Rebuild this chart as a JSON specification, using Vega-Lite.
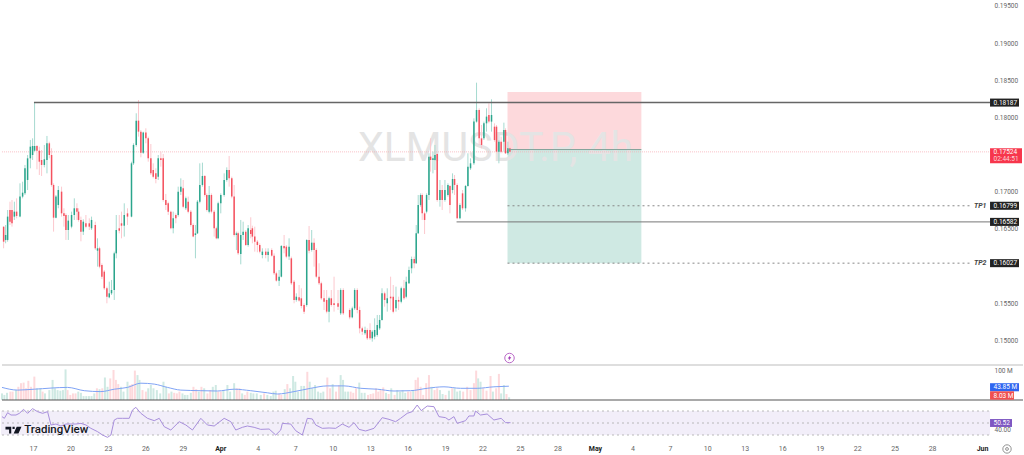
{"$schema":"https://vega.github.io/schema/vega-lite/v6.json","width":1024,"height":455,"padding":0,"autosize":{"type":"fit","contains":"padding"},"background":"white","config":{"view":{"stroke":null},"text":{"font":"Roboto"}},"datasets":{"candles":[
{"d":14.65,"o":0.16518,"h":0.16518,"l":0.16227,"c":0.16316},{"d":14.81,"o":0.16339,"h":0.1654,"l":0.16294,"c":0.16406},{"d":14.97,"o":0.16339,"h":0.16742,"l":0.16316,"c":0.16653},{"d":15.16,"o":0.16742,"h":0.16854,"l":0.1654,"c":0.16585},{"d":15.32,"o":0.16742,"h":0.16877,"l":0.16518,"c":0.16563},{"d":15.51,"o":0.16653,"h":0.16854,"l":0.16608,"c":0.1672},{"d":15.69,"o":0.1672,"h":0.16899,"l":0.1663,"c":0.16662},{"d":15.96,"o":0.16653,"h":0.17101,"l":0.16644,"c":0.16922},{"d":16.17,"o":0.16922,"h":0.17123,"l":0.16899,"c":0.16975},{"d":16.36,"o":0.16966,"h":0.17348,"l":0.16944,"c":0.17303},{"d":16.57,"o":0.17146,"h":0.17482,"l":0.17011,"c":0.17437},{"d":16.79,"o":0.17437,"h":0.17684,"l":0.17303,"c":0.17594},{"d":16.97,"o":0.17482,"h":0.17706,"l":0.17415,"c":0.17603},{"d":17.13,"o":0.1754,"h":0.18186,"l":0.17527,"c":0.17603},{"d":17.32,"o":0.17603,"h":0.17617,"l":0.17289,"c":0.1754},{"d":17.51,"o":0.1754,"h":0.17594,"l":0.17213,"c":0.17392},{"d":17.69,"o":0.17415,"h":0.17549,"l":0.172,"c":0.17348},{"d":17.91,"o":0.17348,"h":0.17617,"l":0.17316,"c":0.17424},{"d":18.12,"o":0.17415,"h":0.17738,"l":0.17235,"c":0.17639},{"d":18.31,"o":0.17639,"h":0.17661,"l":0.17437,"c":0.17482},{"d":18.49,"o":0.17482,"h":0.17572,"l":0.17056,"c":0.17079},{"d":18.65,"o":0.17079,"h":0.17101,"l":0.16451,"c":0.16639},{"d":18.84,"o":0.16639,"h":0.16944,"l":0.1663,"c":0.16922},{"d":19.03,"o":0.1681,"h":0.17065,"l":0.16765,"c":0.17011},{"d":19.29,"o":0.16989,"h":0.17056,"l":0.16653,"c":0.16697},{"d":19.48,"o":0.16697,"h":0.16765,"l":0.16518,"c":0.16662},{"d":19.64,"o":0.16675,"h":0.16697,"l":0.16339,"c":0.16473},{"d":19.83,"o":0.16473,"h":0.16675,"l":0.16339,"c":0.16599},{"d":20.09,"o":0.16518,"h":0.1672,"l":0.16496,"c":0.16675},{"d":20.31,"o":0.16675,"h":0.16899,"l":0.16608,"c":0.16765},{"d":20.52,"o":0.16765,"h":0.16832,"l":0.16608,"c":0.1672},{"d":20.65,"o":0.1672,"h":0.16765,"l":0.16585,"c":0.16608},{"d":20.84,"o":0.16608,"h":0.16653,"l":0.16321,"c":0.16451},{"d":21.03,"o":0.16451,"h":0.16617,"l":0.16406,"c":0.16585},{"d":21.24,"o":0.16563,"h":0.16675,"l":0.16496,"c":0.16518},{"d":21.51,"o":0.16563,"h":0.1663,"l":0.16473,"c":0.16518},{"d":21.69,"o":0.16496,"h":0.16653,"l":0.16473,"c":0.16608},{"d":21.99,"o":0.1654,"h":0.16585,"l":0.16204,"c":0.16227},{"d":22.17,"o":0.16195,"h":0.16361,"l":0.1598,"c":0.16227},{"d":22.33,"o":0.16227,"h":0.16249,"l":0.15958,"c":0.1598},{"d":22.52,"o":0.16002,"h":0.16025,"l":0.15814,"c":0.15845},{"d":22.71,"o":0.15913,"h":0.15935,"l":0.15666,"c":0.15689},{"d":22.92,"o":0.15689,"h":0.15711,"l":0.15487,"c":0.15576},{"d":23.11,"o":0.15567,"h":0.15778,"l":0.15554,"c":0.15621},{"d":23.29,"o":0.15621,"h":0.15801,"l":0.15599,"c":0.15666},{"d":23.51,"o":0.15666,"h":0.16182,"l":0.15532,"c":0.16159},{"d":23.67,"o":0.16159,"h":0.16675,"l":0.16092,"c":0.16473},{"d":23.91,"o":0.16496,"h":0.16675,"l":0.16428,"c":0.16464},{"d":24.09,"o":0.16563,"h":0.1672,"l":0.16361,"c":0.16531},{"d":24.31,"o":0.16531,"h":0.16832,"l":0.16384,"c":0.16675},{"d":24.57,"o":0.16697,"h":0.16765,"l":0.1654,"c":0.16653},{"d":24.89,"o":0.16653,"h":0.17392,"l":0.16644,"c":0.1737},{"d":25.05,"o":0.1737,"h":0.17639,"l":0.17348,"c":0.17617},{"d":25.27,"o":0.17617,"h":0.18043,"l":0.17594,"c":0.17944},{"d":25.45,"o":0.17944,"h":0.18222,"l":0.17729,"c":0.17796},{"d":25.64,"o":0.17796,"h":0.17818,"l":0.17451,"c":0.17513},{"d":25.83,"o":0.17513,"h":0.17796,"l":0.17496,"c":0.17783},{"d":26.04,"o":0.17783,"h":0.17841,"l":0.17639,"c":0.17706},{"d":26.23,"o":0.17706,"h":0.17729,"l":0.17392,"c":0.17437},{"d":26.44,"o":0.17437,"h":0.1763,"l":0.17213,"c":0.17235},{"d":26.63,"o":0.1728,"h":0.1737,"l":0.17168,"c":0.17191},{"d":26.84,"o":0.17235,"h":0.17303,"l":0.17101,"c":0.17159},{"d":27.03,"o":0.17191,"h":0.17482,"l":0.17146,"c":0.17437},{"d":27.24,"o":0.17437,"h":0.17527,"l":0.17325,"c":0.17415},{"d":27.43,"o":0.17437,"h":0.17495,"l":0.16854,"c":0.16877},{"d":27.64,"o":0.16877,"h":0.16958,"l":0.16742,"c":0.1681},{"d":27.83,"o":0.16832,"h":0.16854,"l":0.16675,"c":0.1672},{"d":28.04,"o":0.1672,"h":0.16733,"l":0.16482,"c":0.16496},{"d":28.23,"o":0.16496,"h":0.1672,"l":0.16428,"c":0.1663},{"d":28.44,"o":0.16675,"h":0.16697,"l":0.16563,"c":0.1663},{"d":28.63,"o":0.16675,"h":0.17056,"l":0.16653,"c":0.16989},{"d":28.84,"o":0.16989,"h":0.17168,"l":0.16944,"c":0.17056},{"d":29.03,"o":0.17034,"h":0.17146,"l":0.16765,"c":0.16787},{"d":29.24,"o":0.16765,"h":0.16922,"l":0.16742,"c":0.16899},{"d":29.43,"o":0.16854,"h":0.16922,"l":0.16697,"c":0.1672},{"d":29.64,"o":0.1672,"h":0.16742,"l":0.16518,"c":0.1654},{"d":29.83,"o":0.1654,"h":0.16563,"l":0.16375,"c":0.16384},{"d":30.01,"o":0.16406,"h":0.1654,"l":0.16092,"c":0.16428},{"d":30.17,"o":0.16428,"h":0.16877,"l":0.16419,"c":0.16854},{"d":30.36,"o":0.16854,"h":0.1737,"l":0.16832,"c":0.17079},{"d":30.57,"o":0.17079,"h":0.17379,"l":0.17056,"c":0.172},{"d":30.76,"o":0.172,"h":0.17213,"l":0.16922,"c":0.16944},{"d":30.92,"o":0.16944,"h":0.16966,"l":0.1672,"c":0.16742},{"d":31.11,"o":0.1672,"h":0.17065,"l":0.16697,"c":0.16944},{"d":31.29,"o":0.16944,"h":0.16966,"l":0.16697,"c":0.1672},{"d":31.51,"o":0.1672,"h":0.16742,"l":0.16384,"c":0.16496},{"d":31.69,"o":0.16496,"h":0.16518,"l":0.16348,"c":0.16361},{"d":31.83,"o":0.16361,"h":0.16854,"l":0.16348,"c":0.16832},{"d":32.04,"o":0.16832,"h":0.16966,"l":0.16697,"c":0.16944},{"d":32.31,"o":0.16944,"h":0.17235,"l":0.16922,"c":0.17146},{"d":32.52,"o":0.17146,"h":0.17316,"l":0.17123,"c":0.1728},{"d":32.71,"o":0.1728,"h":0.17469,"l":0.17056,"c":0.17168},{"d":32.92,"o":0.17168,"h":0.17191,"l":0.16899,"c":0.16922},{"d":33.11,"o":0.16922,"h":0.17079,"l":0.16384,"c":0.16406},{"d":33.29,"o":0.16406,"h":0.16451,"l":0.16204,"c":0.16428},{"d":33.43,"o":0.16428,"h":0.16451,"l":0.16137,"c":0.16159},{"d":33.64,"o":0.1615,"h":0.16608,"l":0.16011,"c":0.16406},{"d":33.83,"o":0.16406,"h":0.16585,"l":0.16339,"c":0.16451},{"d":34.04,"o":0.16451,"h":0.16473,"l":0.16258,"c":0.16271},{"d":34.23,"o":0.16271,"h":0.1654,"l":0.16249,"c":0.16496},{"d":34.44,"o":0.16473,"h":0.16644,"l":0.16361,"c":0.16419},{"d":34.57,"o":0.16496,"h":0.16531,"l":0.16294,"c":0.16384},{"d":34.76,"o":0.16384,"h":0.16518,"l":0.16182,"c":0.16316},{"d":34.97,"o":0.16316,"h":0.16339,"l":0.16173,"c":0.16271},{"d":35.16,"o":0.16271,"h":0.16294,"l":0.16159,"c":0.16182},{"d":35.37,"o":0.16137,"h":0.16227,"l":0.16092,"c":0.16182},{"d":35.64,"o":0.16182,"h":0.16227,"l":0.16092,"c":0.16137},{"d":35.83,"o":0.16137,"h":0.16227,"l":0.16047,"c":0.16182},{"d":36.12,"o":0.16204,"h":0.16227,"l":0.16115,"c":0.16128},{"d":36.31,"o":0.16128,"h":0.16159,"l":0.15868,"c":0.1589},{"d":36.49,"o":0.1589,"h":0.15913,"l":0.15778,"c":0.15792},{"d":36.71,"o":0.15792,"h":0.15935,"l":0.1572,"c":0.15845},{"d":36.89,"o":0.15845,"h":0.16271,"l":0.15836,"c":0.16258},{"d":37.11,"o":0.16258,"h":0.16406,"l":0.16159,"c":0.16227},{"d":37.29,"o":0.16249,"h":0.16271,"l":0.16092,"c":0.16115},{"d":37.51,"o":0.16115,"h":0.16361,"l":0.1607,"c":0.16249},{"d":37.69,"o":0.16092,"h":0.16115,"l":0.15733,"c":0.15756},{"d":37.91,"o":0.15778,"h":0.15801,"l":0.15487,"c":0.15532},{"d":38.09,"o":0.15532,"h":0.15621,"l":0.15509,"c":0.15576},{"d":38.31,"o":0.15567,"h":0.15733,"l":0.15509,"c":0.15523},{"d":38.49,"o":0.15554,"h":0.15689,"l":0.15419,"c":0.15451},{"d":38.71,"o":0.15464,"h":0.15487,"l":0.15343,"c":0.15375},{"d":38.92,"o":0.15464,"h":0.16348,"l":0.15442,"c":0.16339},{"d":39.11,"o":0.16339,"h":0.16527,"l":0.16159,"c":0.16195},{"d":39.32,"o":0.16204,"h":0.16473,"l":0.16182,"c":0.16303},{"d":39.51,"o":0.16303,"h":0.16361,"l":0.1598,"c":0.16204},{"d":39.69,"o":0.16204,"h":0.16227,"l":0.15823,"c":0.15845},{"d":39.91,"o":0.15845,"h":0.16025,"l":0.15733,"c":0.15756},{"d":40.09,"o":0.15756,"h":0.15778,"l":0.15532,"c":0.15554},{"d":40.31,"o":0.15554,"h":0.15666,"l":0.15397,"c":0.15509},{"d":40.52,"o":0.15532,"h":0.15666,"l":0.15352,"c":0.15375},{"d":40.71,"o":0.15375,"h":0.15576,"l":0.15231,"c":0.15554},{"d":40.89,"o":0.15554,"h":0.15666,"l":0.15442,"c":0.15464},{"d":41.11,"o":0.15487,"h":0.15845,"l":0.15375,"c":0.15464},{"d":41.43,"o":0.15487,"h":0.15666,"l":0.15397,"c":0.15442},{"d":41.64,"o":0.15352,"h":0.15689,"l":0.1533,"c":0.15666},{"d":41.85,"o":0.15666,"h":0.15689,"l":0.1533,"c":0.15352},{"d":42.36,"o":0.15397,"h":0.15419,"l":0.15272,"c":0.15298},{"d":42.57,"o":0.15298,"h":0.15442,"l":0.15285,"c":0.15419},{"d":42.76,"o":0.15419,"h":0.15689,"l":0.15397,"c":0.15666},{"d":42.97,"o":0.15666,"h":0.15689,"l":0.15352,"c":0.15397},{"d":43.16,"o":0.15397,"h":0.15442,"l":0.15083,"c":0.1515},{"d":43.37,"o":0.1515,"h":0.15173,"l":0.15061,"c":0.15105},{"d":43.59,"o":0.15083,"h":0.15173,"l":0.15061,"c":0.15128},{"d":43.77,"o":0.15128,"h":0.1515,"l":0.14993,"c":0.15016},{"d":43.99,"o":0.15128,"h":0.15218,"l":0.14993,"c":0.15016},{"d":44.17,"o":0.15016,"h":0.15128,"l":0.14971,"c":0.15105},{"d":44.36,"o":0.15038,"h":0.15285,"l":0.15002,"c":0.15128},{"d":44.57,"o":0.15061,"h":0.1533,"l":0.15038,"c":0.15195},{"d":44.76,"o":0.1515,"h":0.1533,"l":0.15128,"c":0.15263},{"d":44.95,"o":0.15263,"h":0.15689,"l":0.15254,"c":0.15621},{"d":45.16,"o":0.15621,"h":0.15644,"l":0.15442,"c":0.15532},{"d":45.37,"o":0.15487,"h":0.15689,"l":0.15375,"c":0.15554},{"d":45.64,"o":0.15576,"h":0.15845,"l":0.15397,"c":0.15554},{"d":45.85,"o":0.15576,"h":0.15733,"l":0.15352,"c":0.15375},{"d":46.07,"o":0.15419,"h":0.15711,"l":0.15375,"c":0.15532},{"d":46.28,"o":0.15532,"h":0.15576,"l":0.15397,"c":0.15509},{"d":46.49,"o":0.15509,"h":0.15711,"l":0.15487,"c":0.15689},{"d":46.71,"o":0.15689,"h":0.15801,"l":0.15532,"c":0.15554},{"d":46.89,"o":0.15576,"h":0.15845,"l":0.15554,"c":0.15778},{"d":47.11,"o":0.15756,"h":0.1598,"l":0.15747,"c":0.15935},{"d":47.32,"o":0.15958,"h":0.16115,"l":0.1589,"c":0.16083},{"d":47.53,"o":0.16083,"h":0.16115,"l":0.15958,"c":0.16025},{"d":47.69,"o":0.16025,"h":0.1654,"l":0.16016,"c":0.16428},{"d":47.85,"o":0.16428,"h":0.16944,"l":0.16419,"c":0.1681},{"d":48.04,"o":0.1681,"h":0.16966,"l":0.16787,"c":0.16944},{"d":48.17,"o":0.16944,"h":0.16966,"l":0.16608,"c":0.16697},{"d":48.36,"o":0.16697,"h":0.1672,"l":0.16419,"c":0.16608},{"d":48.52,"o":0.1672,"h":0.16966,"l":0.16697,"c":0.16944},{"d":48.71,"o":0.16944,"h":0.17505,"l":0.16877,"c":0.1746},{"d":48.84,"o":0.1746,"h":0.17706,"l":0.17258,"c":0.17415},{"d":49.03,"o":0.17415,"h":0.17527,"l":0.17235,"c":0.17437},{"d":49.19,"o":0.17415,"h":0.17617,"l":0.1728,"c":0.17482},{"d":49.37,"o":0.17495,"h":0.17513,"l":0.16854,"c":0.16877},{"d":49.59,"o":0.16877,"h":0.17146,"l":0.16787,"c":0.17011},{"d":49.77,"o":0.17011,"h":0.17079,"l":0.16742,"c":0.16877},{"d":49.99,"o":0.16877,"h":0.17146,"l":0.16854,"c":0.17011},{"d":50.23,"o":0.16944,"h":0.17101,"l":0.16922,"c":0.17079},{"d":50.39,"o":0.17065,"h":0.17079,"l":0.16697,"c":0.1681},{"d":50.6,"o":0.17011,"h":0.17235,"l":0.16966,"c":0.17159},{"d":50.76,"o":0.17159,"h":0.17213,"l":0.16944,"c":0.17079},{"d":50.97,"o":0.17079,"h":0.17101,"l":0.16617,"c":0.1663},{"d":51.19,"o":0.1663,"h":0.16832,"l":0.16617,"c":0.1681},{"d":51.4,"o":0.16966,"h":0.17011,"l":0.16742,"c":0.16765},{"d":51.64,"o":0.16765,"h":0.17079,"l":0.1672,"c":0.17065},{"d":51.83,"o":0.17065,"h":0.17505,"l":0.17056,"c":0.17325},{"d":52.04,"o":0.17303,"h":0.17437,"l":0.1728,"c":0.1737},{"d":52.31,"o":0.1737,"h":0.17975,"l":0.17348,"c":0.17931},{"d":52.52,"o":0.17931,"h":0.18455,"l":0.17917,"c":0.18087},{"d":52.73,"o":0.18087,"h":0.1811,"l":0.17617,"c":0.17706},{"d":52.92,"o":0.17706,"h":0.17886,"l":0.17572,"c":0.17617},{"d":53.11,"o":0.17706,"h":0.17931,"l":0.17684,"c":0.17908},{"d":53.32,"o":0.17908,"h":0.1811,"l":0.17796,"c":0.17998},{"d":53.51,"o":0.1802,"h":0.18177,"l":0.17908,"c":0.17931},{"d":53.72,"o":0.17931,"h":0.18231,"l":0.17796,"c":0.1802},{"d":53.96,"o":0.17863,"h":0.17908,"l":0.17661,"c":0.17684},{"d":54.12,"o":0.17863,"h":0.17886,"l":0.17505,"c":0.17527},{"d":54.31,"o":0.17527,"h":0.17684,"l":0.1737,"c":0.17661},{"d":54.49,"o":0.17661,"h":0.17729,"l":0.17505,"c":0.17527},{"d":54.71,"o":0.17661,"h":0.17917,"l":0.17527,"c":0.17818},{"d":54.84,"o":0.17818,"h":0.17841,"l":0.17495,"c":0.17505},{"d":55.03,"o":0.17505,"h":0.17661,"l":0.17482,"c":0.17572},{"d":55.19,"o":0.17572,"h":0.17594,"l":0.17495,"c":0.17524}
],"volume":[
{"d":14.52,"v":22,"s":"down"},{"d":14.71,"v":17,"s":"down"},{"d":14.92,"v":24,"s":"down"},{"d":15.19,"v":28,"s":"up"},{"d":15.37,"v":28,"s":"up"},{"d":15.64,"v":33,"s":"down"},{"d":15.83,"v":44,"s":"up"},{"d":16.04,"v":56,"s":"up"},{"d":16.25,"v":58,"s":"up"},{"d":16.44,"v":39,"s":"up"},{"d":16.63,"v":64,"s":"up"},{"d":16.84,"v":44,"s":"up"},{"d":17.11,"v":78,"s":"up"},{"d":17.32,"v":39,"s":"down"},{"d":17.59,"v":39,"s":"down"},{"d":17.77,"v":28,"s":"up"},{"d":17.96,"v":22,"s":"down"},{"d":18.31,"v":33,"s":"down"},{"d":18.57,"v":67,"s":"down"},{"d":18.76,"v":39,"s":"down"},{"d":18.97,"v":33,"s":"down"},{"d":19.19,"v":31,"s":"down"},{"d":19.4,"v":33,"s":"down"},{"d":19.61,"v":102,"s":"down"},{"d":19.77,"v":33,"s":"up"},{"d":19.99,"v":17,"s":"up"},{"d":20.2,"v":22,"s":"up"},{"d":20.41,"v":22,"s":"up"},{"d":20.63,"v":28,"s":"down"},{"d":20.84,"v":24,"s":"down"},{"d":21.05,"v":13,"s":"down"},{"d":21.27,"v":13,"s":"down"},{"d":21.48,"v":13,"s":"down"},{"d":21.69,"v":13,"s":"down"},{"d":21.91,"v":22,"s":"down"},{"d":22.12,"v":39,"s":"up"},{"d":22.33,"v":36,"s":"down"},{"d":22.55,"v":39,"s":"up"},{"d":22.76,"v":75,"s":"down"},{"d":22.97,"v":44,"s":"down"},{"d":23.19,"v":72,"s":"up"},{"d":23.45,"v":100,"s":"up"},{"d":23.64,"v":67,"s":"up"},{"d":23.83,"v":53,"s":"up"},{"d":24.04,"v":44,"s":"down"},{"d":24.25,"v":28,"s":"down"},{"d":24.57,"v":61,"s":"down"},{"d":24.79,"v":50,"s":"up"},{"d":24.95,"v":53,"s":"up"},{"d":25.16,"v":98,"s":"up"},{"d":25.37,"v":83,"s":"down"},{"d":25.53,"v":67,"s":"down"},{"d":25.77,"v":33,"s":"up"},{"d":26.04,"v":28,"s":"up"},{"d":26.23,"v":39,"s":"down"},{"d":26.44,"v":50,"s":"down"},{"d":26.65,"v":39,"s":"down"},{"d":26.92,"v":33,"s":"down"},{"d":27.19,"v":22,"s":"down"},{"d":27.45,"v":61,"s":"down"},{"d":27.67,"v":44,"s":"down"},{"d":27.88,"v":22,"s":"up"},{"d":28.09,"v":28,"s":"down"},{"d":28.31,"v":24,"s":"up"},{"d":28.52,"v":22,"s":"up"},{"d":28.73,"v":28,"s":"up"},{"d":28.97,"v":22,"s":"down"},{"d":29.16,"v":17,"s":"down"},{"d":29.37,"v":17,"s":"down"},{"d":29.64,"v":24,"s":"down"},{"d":29.85,"v":44,"s":"up"},{"d":30.07,"v":36,"s":"up"},{"d":30.28,"v":28,"s":"down"},{"d":30.49,"v":44,"s":"up"},{"d":30.71,"v":39,"s":"down"},{"d":30.97,"v":22,"s":"up"},{"d":31.19,"v":33,"s":"up"},{"d":31.4,"v":44,"s":"down"},{"d":31.64,"v":50,"s":"down"},{"d":31.83,"v":28,"s":"up"},{"d":32.04,"v":28,"s":"up"},{"d":32.25,"v":33,"s":"down"},{"d":32.57,"v":50,"s":"down"},{"d":32.79,"v":28,"s":"down"},{"d":33.11,"v":56,"s":"down"},{"d":33.32,"v":39,"s":"up"},{"d":33.53,"v":39,"s":"up"},{"d":33.75,"v":22,"s":"down"},{"d":33.96,"v":17,"s":"up"},{"d":34.17,"v":28,"s":"up"},{"d":34.44,"v":24,"s":"down"},{"d":34.65,"v":22,"s":"down"},{"d":34.92,"v":22,"s":"down"},{"d":35.24,"v":17,"s":"down"},{"d":35.51,"v":22,"s":"up"},{"d":35.77,"v":17,"s":"down"},{"d":36.04,"v":13,"s":"down"},{"d":36.25,"v":28,"s":"down"},{"d":36.44,"v":31,"s":"down"},{"d":36.71,"v":20,"s":"up"},{"d":36.89,"v":17,"s":"up"},{"d":37.16,"v":36,"s":"down"},{"d":37.37,"v":53,"s":"up"},{"d":37.59,"v":39,"s":"down"},{"d":37.83,"v":80,"s":"down"},{"d":38.01,"v":61,"s":"down"},{"d":38.23,"v":28,"s":"down"},{"d":38.49,"v":47,"s":"down"},{"d":38.71,"v":47,"s":"down"},{"d":38.97,"v":94,"s":"up"},{"d":39.16,"v":61,"s":"down"},{"d":39.37,"v":39,"s":"down"},{"d":39.59,"v":50,"s":"down"},{"d":39.83,"v":28,"s":"down"},{"d":40.04,"v":24,"s":"down"},{"d":40.25,"v":28,"s":"down"},{"d":40.57,"v":75,"s":"up"},{"d":40.79,"v":39,"s":"up"},{"d":41.0,"v":53,"s":"down"},{"d":41.27,"v":28,"s":"up"},{"d":41.51,"v":50,"s":"up"},{"d":41.64,"v":83,"s":"down"},{"d":41.83,"v":67,"s":"down"},{"d":42.01,"v":28,"s":"down"},{"d":42.23,"v":28,"s":"down"},{"d":42.44,"v":28,"s":"up"},{"d":42.65,"v":24,"s":"up"},{"d":42.87,"v":39,"s":"up"},{"d":43.13,"v":58,"s":"down"},{"d":43.32,"v":24,"s":"down"},{"d":43.56,"v":24,"s":"down"},{"d":43.83,"v":17,"s":"up"},{"d":44.04,"v":20,"s":"up"},{"d":44.25,"v":22,"s":"up"},{"d":44.47,"v":39,"s":"up"},{"d":44.65,"v":28,"s":"up"},{"d":44.84,"v":33,"s":"up"},{"d":45.05,"v":42,"s":"up"},{"d":45.27,"v":24,"s":"down"},{"d":45.48,"v":20,"s":"up"},{"d":45.69,"v":39,"s":"down"},{"d":45.96,"v":17,"s":"up"},{"d":46.17,"v":33,"s":"down"},{"d":46.39,"v":28,"s":"down"},{"d":46.6,"v":33,"s":"down"},{"d":46.81,"v":24,"s":"down"},{"d":47.03,"v":28,"s":"up"},{"d":47.24,"v":28,"s":"up"},{"d":47.45,"v":33,"s":"down"},{"d":47.64,"v":67,"s":"up"},{"d":47.83,"v":75,"s":"up"},{"d":48.04,"v":44,"s":"up"},{"d":48.25,"v":17,"s":"up"},{"d":48.49,"v":56,"s":"up"},{"d":48.71,"v":83,"s":"up"},{"d":48.92,"v":44,"s":"down"},{"d":49.16,"v":33,"s":"up"},{"d":49.37,"v":39,"s":"up"},{"d":49.59,"v":33,"s":"down"},{"d":49.8,"v":20,"s":"down"},{"d":50.04,"v":17,"s":"up"},{"d":50.31,"v":31,"s":"down"},{"d":50.57,"v":39,"s":"up"},{"d":50.76,"v":39,"s":"down"},{"d":50.97,"v":28,"s":"down"},{"d":51.19,"v":31,"s":"down"},{"d":51.45,"v":28,"s":"up"},{"d":51.77,"v":44,"s":"up"},{"d":52.04,"v":33,"s":"up"},{"d":52.31,"v":56,"s":"up"},{"d":52.49,"v":98,"s":"up"},{"d":52.65,"v":72,"s":"down"},{"d":52.84,"v":61,"s":"down"},{"d":53.05,"v":39,"s":"up"},{"d":53.32,"v":31,"s":"up"},{"d":53.64,"v":80,"s":"up"},{"d":53.83,"v":28,"s":"down"},{"d":54.09,"v":39,"s":"up"},{"d":54.31,"v":87,"s":"up"},{"d":54.49,"v":22,"s":"down"},{"d":54.71,"v":50,"s":"down"},{"d":54.92,"v":20,"s":"up"},{"d":55.13,"v":9,"s":"down"}
],"volma":[
{"d":14.52,"v":42},{"d":15.77,"v":33},{"d":17.11,"v":36},{"d":19.77,"v":42},{"d":21.11,"v":31},{"d":22.44,"v":28},{"d":23.51,"v":36},{"d":24.57,"v":42},{"d":25.64,"v":56},{"d":26.71,"v":53},{"d":27.77,"v":42},{"d":28.84,"v":33},{"d":30.44,"v":31},{"d":31.77,"v":30},{"d":33.11,"v":36},{"d":34.44,"v":31},{"d":35.77,"v":24},{"d":36.57,"v":20},{"d":37.91,"v":28},{"d":39.24,"v":39},{"d":40.57,"v":47},{"d":41.91,"v":47},{"d":43.24,"v":39},{"d":44.57,"v":36},{"d":45.91,"v":30},{"d":47.24,"v":31},{"d":48.57,"v":39},{"d":49.91,"v":44},{"d":51.24,"v":39},{"d":52.57,"v":39},{"d":53.91,"v":44},{"d":55.11,"v":46}
],"rsi":[
{"d":14.52,"r":60.6},{"d":14.71,"r":57.8},{"d":14.97,"r":67.2},{"d":15.24,"r":63.3},{"d":15.64,"r":63.3},{"d":15.91,"r":66.1},{"d":16.25,"r":72.8},{"d":16.57,"r":66.1},{"d":16.97,"r":73.9},{"d":17.37,"r":68.9},{"d":17.77,"r":66.1},{"d":18.17,"r":68.9},{"d":18.44,"r":46.7},{"d":18.84,"r":48.3},{"d":19.24,"r":45},{"d":19.64,"r":48.3},{"d":20.04,"r":48.3},{"d":20.44,"r":48.3},{"d":20.84,"r":49.4},{"d":21.24,"r":46.7},{"d":21.64,"r":41.1},{"d":22.17,"r":35.6},{"d":22.57,"r":30},{"d":22.97,"r":26.1},{"d":23.24,"r":30},{"d":23.51,"r":55},{"d":23.77,"r":57.8},{"d":24.17,"r":57.8},{"d":24.71,"r":57.8},{"d":24.97,"r":71.7},{"d":25.24,"r":76.1},{"d":25.64,"r":66.1},{"d":26.17,"r":57.8},{"d":26.71,"r":53.9},{"d":27.11,"r":57.8},{"d":27.51,"r":43.9},{"d":28.04,"r":38.3},{"d":28.71,"r":52.2},{"d":29.24,"r":46.7},{"d":29.77,"r":38.3},{"d":30.44,"r":57.8},{"d":30.97,"r":46.7},{"d":31.51,"r":45},{"d":32.31,"r":57.8},{"d":32.84,"r":52.2},{"d":33.24,"r":38.3},{"d":33.77,"r":42.8},{"d":34.17,"r":45},{"d":34.71,"r":42.8},{"d":35.24,"r":39.4},{"d":35.91,"r":40},{"d":36.44,"r":30},{"d":36.84,"r":38.3},{"d":36.97,"r":49.4},{"d":37.64,"r":48.3},{"d":38.04,"r":37.2},{"d":38.57,"r":30},{"d":38.97,"r":57.8},{"d":39.37,"r":56.7},{"d":39.64,"r":46.7},{"d":40.17,"r":41.1},{"d":40.71,"r":41.7},{"d":41.24,"r":41.1},{"d":41.77,"r":48.3},{"d":42.31,"r":42.8},{"d":42.71,"r":50.6},{"d":43.11,"r":39.4},{"d":43.64,"r":36.7},{"d":44.31,"r":41.1},{"d":44.97,"r":58.9},{"d":45.51,"r":56.1},{"d":46.04,"r":52.2},{"d":46.44,"r":57.8},{"d":46.97,"r":66.1},{"d":47.37,"r":68.9},{"d":47.77,"r":80},{"d":48.09,"r":70.6},{"d":48.57,"r":78.3},{"d":49.11,"r":77.2},{"d":49.51,"r":60.6},{"d":50.04,"r":58.9},{"d":50.31,"r":55},{"d":50.71,"r":60.6},{"d":50.97,"r":49.4},{"d":51.64,"r":53.9},{"d":51.91,"r":61.7},{"d":52.31,"r":61.7},{"d":52.44,"r":70},{"d":52.84,"r":63.3},{"d":53.37,"r":65},{"d":53.91,"r":55},{"d":54.49,"r":57.8},{"d":54.84,"r":50.6},{"d":55.24,"r":50.52}
]},
"resolve":{"scale":{"y":"independent"},"axis":{"y":"independent"}},
"layer":[
{"layer":[
{"data":{"values":[{"d":55,"d2":65.72,"top":0.18329,"bot":0.17555,"zone":"risk"},{"d":55,"d2":65.72,"top":0.17555,"bot":0.16027,"zone":"reward"}]},"mark":{"type":"rect"},"encoding":{"x":{"field":"d","type":"quantitative","scale":{"domain":[14.44,96.36],"nice":false,"zero":false},"axis":{"values":[17,20,23,26,29,32,35,38,41,44,47,50,53,56,59,62,65,68,71,74,77,80,83,86,89,93],"labelExpr":"datum.value==32?'Apr':datum.value==62?'May':datum.value==93?'Jun':datum.value<32?format(datum.value,'d'):datum.value<62?format(datum.value-31,'d'):format(datum.value-61,'d')","title":null,"orient":"bottom","offset":-11,"domain":false,"ticks":false,"grid":false,"labelPadding":0,"labelFontSize":7,"labelFont":"Roboto","labelColor":{"condition":{"test":"datum.value==32||datum.value==62||datum.value==93","value":"#222222"},"value":"#666666"},"labelFontWeight":{"condition":{"test":"datum.value==32||datum.value==62||datum.value==93","value":"bold"},"value":"normal"},"labelOverlap":false,"labelFlush":false}},"x2":{"field":"d2"},"y":{"field":"top","type":"quantitative","scale":{"domain":[0.14657,0.19567],"range":[365,0],"nice":false,"zero":false},"axis":{"values":[0.195,0.19,0.185,0.18,0.17,0.165,0.155,0.15],"format":".5f","orient":"right","offset":-30,"title":null,"domain":false,"ticks":false,"grid":false,"labelPadding":0,"labelOffset":1,"labelFontSize":6.5,"labelFont":"Roboto","labelColor":"#666666","labelOverlap":false,"labelFlush":false}},"y2":{"field":"bot"},"color":{"field":"zone","type":"nominal","scale":{"domain":["risk","reward"],"range":["#fdd9dc","#cfe9e3"]},"legend":null}}},
{"data":{"values":[{"d":54.04,"p":0.1756,"t":"XLMUSDT.P, 4h"}]},"mark":{"type":"text","font":"Roboto","fontSize":41,"color":"#e4e4e4","align":"center","baseline":"middle"},"encoding":{"x":{"field":"d","type":"quantitative"},"y":{"field":"p","type":"quantitative","axis":{"title":null}},"text":{"field":"t"}}},
{"data":{"values":[{"d":14.52,"d2":93.64,"p":0.17524}]},"mark":{"type":"rule","color":"#f7a8b0","strokeWidth":1,"strokeDash":[1,1],"opacity":0.7},"encoding":{"x":{"field":"d","type":"quantitative"},"x2":{"field":"d2"},"y":{"field":"p","type":"quantitative","axis":{"title":null}}}},
{"data":{"name":"candles"},"mark":{"type":"rule","strokeWidth":1},"encoding":{"x":{"field":"d","type":"quantitative"},"y":{"field":"h","type":"quantitative","axis":{"title":null}},"y2":{"field":"l"},"color":{"condition":{"test":"datum.c>=datum.o","value":"#a6dad0"},"value":"#fcc8ce"}}},
{"data":{"name":"candles"},"mark":{"type":"rule","strokeWidth":1.5},"encoding":{"x":{"field":"d","type":"quantitative"},"y":{"field":"o","type":"quantitative","axis":{"title":null}},"y2":{"field":"c"},"color":{"condition":{"test":"datum.c>=datum.o","value":"#2ba58c"},"value":"#f4525f"}}},
{"data":{"values":[{"d":17.08,"d2":93.64,"p":0.18187,"w":1.5,"k":"#666666"},{"d":50.92,"d2":93.64,"p":0.16582,"w":1,"k":"#777777"},{"d":55,"d2":65.72,"p":0.17555,"w":1,"k":"#7f9f97"}]},"mark":{"type":"rule"},"encoding":{"x":{"field":"d","type":"quantitative"},"x2":{"field":"d2"},"y":{"field":"p","type":"quantitative","axis":{"title":null}},"strokeWidth":{"field":"w","type":"quantitative","scale":null},"color":{"field":"k","type":"nominal","scale":null}}},
{"data":{"values":[{"d":55,"d2":92.0,"p":0.16799},{"d":55,"d2":92.0,"p":0.16027}]},"mark":{"type":"rule","color":"#888888","strokeWidth":1,"strokeDash":[2,3]},"encoding":{"x":{"field":"d","type":"quantitative"},"x2":{"field":"d2"},"y":{"field":"p","type":"quantitative","axis":{"title":null}}}},
{"data":{"values":[{"d":92.85,"p":0.16799,"t":"TP1"},{"d":92.85,"p":0.16027,"t":"TP2"}]},"mark":{"type":"text","font":"Roboto","fontSize":7,"fontStyle":"italic","fontWeight":"bold","color":"#444444","align":"center","baseline":"middle"},"encoding":{"x":{"field":"d","type":"quantitative"},"y":{"field":"p","type":"quantitative","axis":{"title":null}},"text":{"field":"t"}}},
{"data":{"values":[{"d":93.64,"d2":95.96,"top":0.18241,"bot":0.18133,"k":"#222222"},{"d":93.64,"d2":95.96,"top":0.16853,"bot":0.16745,"k":"#222222"},{"d":93.64,"d2":95.96,"top":0.16636,"bot":0.16528,"k":"#222222"},{"d":93.64,"d2":95.96,"top":0.16081,"bot":0.15973,"k":"#222222"},{"d":93.64,"d2":96.2,"top":0.17574,"bot":0.17372,"k":"#f7364c"}]},"mark":{"type":"rect"},"encoding":{"x":{"field":"d","type":"quantitative"},"x2":{"field":"d2"},"y":{"field":"top","type":"quantitative","axis":{"title":null}},"y2":{"field":"bot"},"color":{"field":"k","type":"nominal","scale":null}}},
{"data":{"values":[{"d":93.92,"p":0.18187,"t":"0.18187","k":"#ffffff"},{"d":93.92,"p":0.16799,"t":"0.16799","k":"#ffffff"},{"d":93.92,"p":0.16582,"t":"0.16582","k":"#ffffff"},{"d":93.92,"p":0.16027,"t":"0.16027","k":"#ffffff"},{"d":93.92,"p":0.17524,"t":"0.17524","k":"#ffffff"},{"d":93.92,"p":0.17425,"t":"02:44:51","k":"#fcd5da"}]},"mark":{"type":"text","font":"Roboto","fontSize":6.5,"align":"left","baseline":"middle"},"encoding":{"x":{"field":"d","type":"quantitative"},"y":{"field":"p","type":"quantitative","axis":{"title":null}},"text":{"field":"t"},"color":{"field":"k","type":"nominal","scale":null}}},
{"data":{"values":[{"d":55.16,"p":0.14751}]},"mark":{"type":"point","filled":false,"color":"#9c27b0","size":90,"strokeWidth":1},"encoding":{"x":{"field":"d","type":"quantitative"},"y":{"field":"p","type":"quantitative","axis":{"title":null}}}},
{"data":{"values":[{"d":55.16,"p":0.14751}]},"mark":{"type":"point","filled":true,"color":"#9c27b0","size":36,"opacity":1,"shape":"M0.35 -1L-0.6 0.2H-0.05L-0.35 1L0.6 -0.25H0.05Z"},"encoding":{"x":{"field":"d","type":"quantitative"},"y":{"field":"p","type":"quantitative","axis":{"title":null}}}}
]},
{"layer":[
{"data":{"name":"volume"},"mark":{"type":"rule","strokeWidth":2},"encoding":{"x":{"field":"d","type":"quantitative"},"y":{"field":"v","type":"quantitative","scale":{"domain":[0,100],"range":[400,370],"nice":false,"zero":false},"axis":{"values":[100],"labelExpr":"'100 M'","orient":"right","offset":-30,"title":null,"domain":false,"ticks":false,"grid":false,"labelPadding":0,"labelFontSize":6.5,"labelFont":"Roboto","labelColor":"#666666"}},"y2":{"datum":0},"color":{"field":"s","type":"nominal","scale":{"domain":["up","down"],"range":["#9cd8cd","#fbb0b5"]},"legend":null}}},
{"data":{"name":"volma"},"mark":{"type":"line","color":"#7fa3f5","strokeWidth":1,"interpolate":"monotone"},"encoding":{"x":{"field":"d","type":"quantitative"},"y":{"field":"v","type":"quantitative","axis":{"title":null}}}},
{"data":{"values":[{"d":14.52,"d2":96.28,"v":116.7,"k":"#d3d3d3","w":1.5},{"d":14.52,"d2":96.28,"v":0,"k":"#555555","w":1.2}]},"mark":{"type":"rule"},"encoding":{"x":{"field":"d","type":"quantitative"},"x2":{"field":"d2"},"y":{"field":"v","type":"quantitative","axis":{"title":null}},"color":{"field":"k","type":"nominal","scale":null},"strokeWidth":{"field":"w","type":"quantitative","scale":null}}},
{"data":{"values":[{"d":93.64,"d2":95.96,"top":56,"bot":29,"k":"#2f66f0"},{"d":93.64,"d2":95.56,"top":29,"bot":1,"k":"#f0504f"}]},"mark":{"type":"rect"},"encoding":{"x":{"field":"d","type":"quantitative"},"x2":{"field":"d2"},"y":{"field":"top","type":"quantitative","axis":{"title":null}},"y2":{"field":"bot"},"color":{"field":"k","type":"nominal","scale":null}}},
{"data":{"values":[{"d":93.92,"v":43,"t":"43.85 M"},{"d":93.92,"v":15,"t":"8.03 M"}]},"mark":{"type":"text","font":"Roboto","fontSize":6.5,"color":"white","align":"left","baseline":"middle"},"encoding":{"x":{"field":"d","type":"quantitative"},"y":{"field":"v","type":"quantitative","axis":{"title":null}},"text":{"field":"t"}}}
]},
{"layer":[
{"data":{"values":[{"d":14.44,"d2":93.64,"hi":70,"lo":30}]},"mark":{"type":"rect","color":"#7e57c2","opacity":0.1},"encoding":{"x":{"field":"d","type":"quantitative"},"x2":{"field":"d2"},"y":{"field":"hi","type":"quantitative","scale":{"domain":[30,70],"range":[435,411],"nice":false,"zero":false},"axis":{"values":[80,40],"format":".2f","orient":"right","offset":-30,"title":null,"domain":false,"ticks":false,"grid":false,"labelPadding":0,"labelFontSize":6.5,"labelFont":"Roboto","labelColor":"#666666","labelOverlap":false}},"y2":{"field":"lo"}}},
{"data":{"values":[{"d":14.52,"d2":93.64,"r":70},{"d":14.52,"d2":93.64,"r":50},{"d":14.52,"d2":93.64,"r":30}]},"mark":{"type":"rule","color":"#aaaaaa","strokeWidth":0.8,"strokeDash":[2,3]},"encoding":{"x":{"field":"d","type":"quantitative"},"x2":{"field":"d2"},"y":{"field":"r","type":"quantitative","axis":{"title":null}}}},
{"data":{"name":"rsi"},"mark":{"type":"line","color":"#a88fdc","strokeWidth":1},"encoding":{"x":{"field":"d","type":"quantitative"},"y":{"field":"r","type":"quantitative","axis":{"title":null}}}},
{"data":{"values":[{"d":16.3,"r":38.3,"t":"TradingView"}]},"mark":{"type":"text","font":"Roboto","fontSize":11.5,"fontWeight":500,"color":"#131722","align":"left","baseline":"middle"},"encoding":{"x":{"field":"d","type":"quantitative"},"y":{"field":"r","type":"quantitative","axis":{"title":null}},"text":{"field":"t"}}},
{"data":{"values":[{"d":15.44,"r":38.3}]},"mark":{"type":"point","filled":true,"color":"#131722","opacity":1,"size":256,"shape":"M-1 -0.42H-0.28V0.42H-0.55V-0.08H-1Z M-0.12 -0.42H0.15V-0.14H-0.12Z M0.4 -0.42H1L0.62 0.42H0.02Z"},"encoding":{"x":{"field":"d","type":"quantitative"},"y":{"field":"r","type":"quantitative","axis":{"title":null}}}},
{"data":{"values":[{"d":93.64,"d2":95.4,"top":56.6,"bot":43.4}]},"mark":{"type":"rect","color":"#7e57c2"},"encoding":{"x":{"field":"d","type":"quantitative"},"x2":{"field":"d2"},"y":{"field":"top","type":"quantitative","axis":{"title":null}},"y2":{"field":"bot"}}},
{"data":{"values":[{"d":93.92,"r":50.2,"t":"50.52"}]},"mark":{"type":"text","font":"Roboto","fontSize":6.5,"color":"white","align":"left","baseline":"middle"},"encoding":{"x":{"field":"d","type":"quantitative"},"y":{"field":"r","type":"quantitative","axis":{"title":null}},"text":{"field":"t"}}},
{"data":{"values":[{"d":95,"r":6.7}]},"mark":{"type":"point","filled":false,"color":"#555555","size":70,"strokeWidth":0.9},"encoding":{"x":{"field":"d","type":"quantitative"},"y":{"field":"r","type":"quantitative","axis":{"title":null}}}},
{"data":{"values":[{"d":95,"r":6.7}]},"mark":{"type":"point","filled":false,"color":"#555555","size":8,"strokeWidth":0.9},"encoding":{"x":{"field":"d","type":"quantitative"},"y":{"field":"r","type":"quantitative","axis":{"title":null}}}}
]}
]}
